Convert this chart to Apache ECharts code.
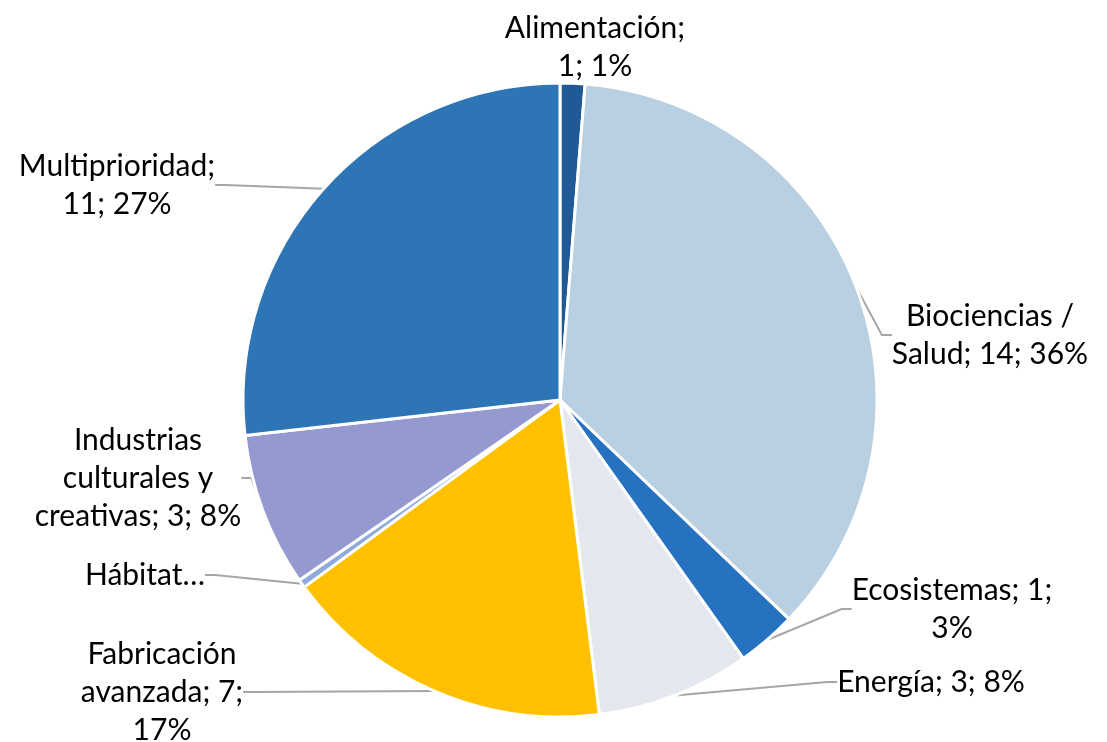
<!DOCTYPE html>
<html><head><meta charset="utf-8">
<script src="https://cdn.jsdelivr.net/npm/echarts@6/dist/echarts.min.js"></script>
<style>html,body{margin:0;padding:0;background:#fff}#c{width:1107px;height:742px}</style>
</head><body><div id="c"></div>
<script>
const categories = ['Alimentación','Biociencias / Salud','Ecosistemas','Energía','Fabricación avanzada','Hábitat','Industrias culturales y creativas','Multiprioridad'];
const values = [0.5, 14.2, 1.2, 3.1, 6.7, 0.17, 3.1, 10.6];
const labelTexts = [
  'Alimentación;\n1; 1%',
  'Biociencias /\nSalud; 14; 36%',
  'Ecosistemas; 1;\n3%',
  'Energía; 3; 8%',
  'Fabricación\navanzada; 7;\n17%',
  'Hábitat…',
  'Industrias\nculturales y\ncreativas; 3; 8%',
  'Multiprioridad;\n11; 27%'
];
const colors = ['#1F5A96','#B9CFE2','#2672C0','#E4E8EE','#FFC000','#8FAADC','#9499CF','#2E75B6'];

const labelPos = [
  {x:595,y:47},
  {x:990,y:335},
  {x:952,y:609},
  {x:931,y:682},
  {x:162,y:692},
  {x:145,y:575},
  {x:138,y:478},
  {x:117,y:185}
];

const chart = echarts.init(document.getElementById('c'));
chart.setOption({
  animation:false,
  series:[{
    type:'pie',
    center:[560,400],
    radius:317,
    startAngle:90,
    clockwise:true,
    avoidLabelOverlap:false,
    itemStyle:{borderColor:'#fff',borderWidth:3},
    label:{
      show:true,
      position:'outside',
      fontFamily:'Lato',
      fontSize:30,
      lineHeight:38,
      color:'#000',
      align:'center',
      formatter:p=>labelTexts[p.dataIndex]
    },
    labelLine:{show:true,length:20,length2:10,lineStyle:{color:'#A6A6A6',width:2}},
    labelLayout:function(params){
      const p = labelPos[params.dataIndex];
      return {x:p.x,y:p.y,align:'center',verticalAlign:'middle'};
    },
    data:categories.map((c,i)=>({name:c,value:values[i],itemStyle:{color:colors[i]},labelLine:{show:i!==0}}))
  }]
});
</script></body></html>
